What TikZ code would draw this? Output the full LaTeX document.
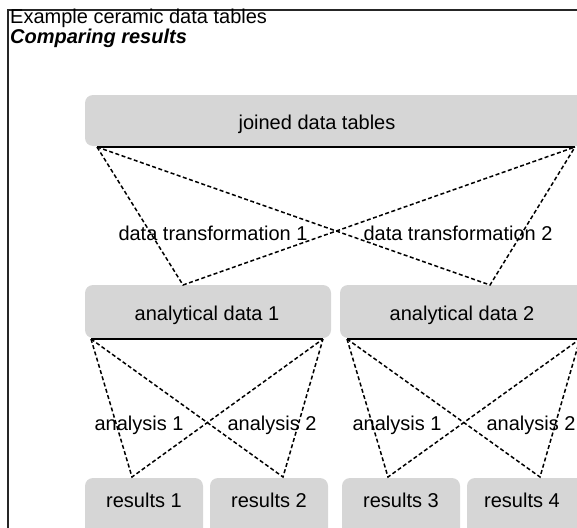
\documentclass[tikz,border=0pt]{standalone}
\usepackage{fontspec}
\setmainfont{Liberation Sans}
\definecolor{boxfill}{RGB}{214,214,214}
\begin{document}
\begin{tikzpicture}[x=1pt,y=-1pt,
  every node/.style={font=\fontsize{20}{20}\selectfont, inner sep=0pt},
  pbox/.style={fill=boxfill, rounded corners=8pt},
  baseln/.style={line width=2.2pt, black},
  dconn/.style={dashed, dash pattern=on 4pt off 2.5pt, line width=1.5pt, black},
  lbl/.style={anchor=base}]
\useasboundingbox (0,0) rectangle (577,527);
\clip (0,0) rectangle (577,527);
% frame
\draw[line width=1.2pt, black!85] (8,540) -- (8,10) -- (590,10);
% titles
\node[anchor=base west] (t1) at (10,24) {Example ceramic data tables};
\node[anchor=base west, font=\fontsize{20}{20}\selectfont\bfseries\itshape] (t2) at (10,44) {Comparing results};
% boxes
\path[pbox] (85,95) rectangle (600,146);
\node[lbl] (jdt) at (317,129) {joined data tables};
\path[pbox] (85,285) rectangle (331,338);
\node[lbl] (ad1) at (207,320) {analytical data 1};
\path[pbox] (340,285) rectangle (600,338);
\node[lbl] (ad2) at (462,320) {analytical data 2};
\path[pbox] (85,478) rectangle (203,540);
\node[lbl] (r1) at (144,507) {results 1};
\path[pbox] (210,478) rectangle (328,540);
\node[lbl] (r2) at (269,507) {results 2};
\path[pbox] (342,478) rectangle (460,540);
\node[lbl] (r3) at (401,507) {results 3};
\path[pbox] (467,478) rectangle (600,540);
\node[lbl] (r4) at (522,507) {results 4};
% base lines
\coordinate (jl) at (97,147);
\coordinate (jr) at (575,147);
\coordinate (a1l) at (91,339);
\coordinate (a1r) at (323,339);
\coordinate (a2l) at (347,339);
\coordinate (a2r) at (580,339);
\draw[baseln] (jl) -- (jr);
\draw[baseln] (a1l) -- (a1r);
\draw[baseln] (a2l) -- (a2r);
% tips
\coordinate (p1) at (183,285);
\coordinate (p2) at (490,285);
\coordinate (q1) at (132,477);
\coordinate (q2) at (283,477);
\coordinate (q3) at (388,477);
\coordinate (q4) at (540,477);
% connectors
\draw[dconn] (jl) -- (p1) -- (jr);
\draw[dconn] (jl) -- (p2) -- (jr);
\draw[dconn] (a1l) -- (q1) -- (a1r);
\draw[dconn] (a1l) -- (q2) -- (a1r);
\draw[dconn] (a2l) -- (q3) -- (a2r);
\draw[dconn] (a2l) -- (q4) -- (a2r);
% labels
\node[lbl] (dt1) at (213,240) {data transformation 1};
\node[lbl] (dt2) at (458,240) {data transformation 2};
\node[lbl] (an1) at (139,430) {analysis 1};
\node[lbl] (an2) at (272,430) {analysis 2};
\node[lbl] (an3) at (397,430) {analysis 1};
\node[lbl] (an4) at (531,430) {analysis 2};
\end{tikzpicture}
\end{document}
